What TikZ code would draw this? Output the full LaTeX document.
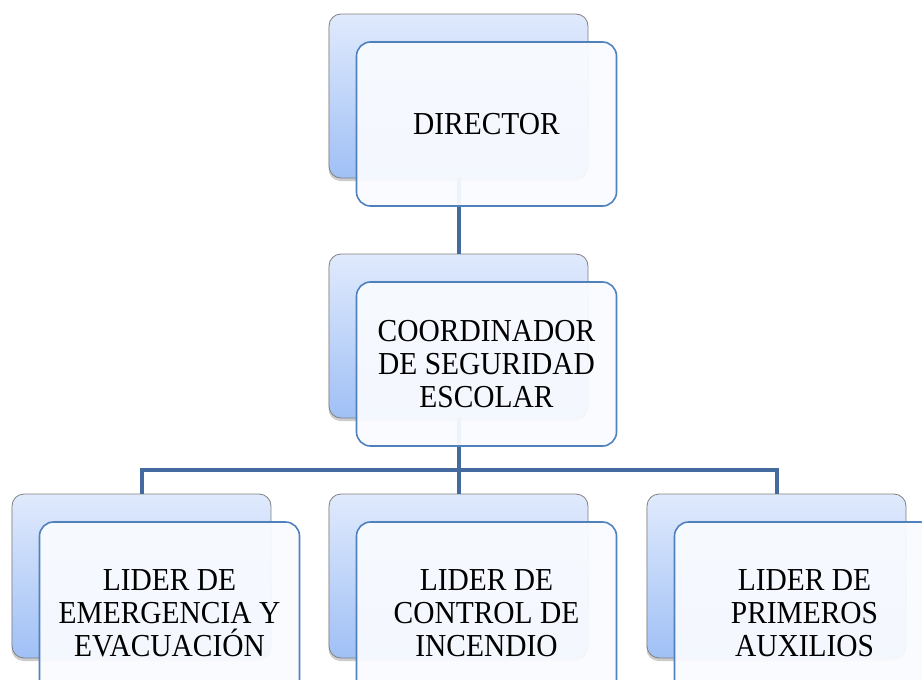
\documentclass[tikz,border=0pt]{standalone}
\usepackage{fontspec}
\setmainfont[FakeStretch=0.92]{Liberation Serif}
\usetikzlibrary{shadows,calc,positioning}
\definecolor{linkblue}{RGB}{68,106,160}
\definecolor{frontline}{RGB}{79,129,189}
\definecolor{backtop}{RGB}{224,234,252}
\definecolor{backbot}{RGB}{160,192,246}
\definecolor{frontfill}{RGB}{249,251,255}

\begin{document}
\begin{tikzpicture}[x=1pt, y=-1pt,
  backbox/.style={rectangle, rounded corners=12pt, draw=black!50, line width=0.8pt,
    top color=backtop, bottom color=backbot, minimum width=259pt, minimum height=164pt,
    drop shadow={shadow xshift=-0.5pt, shadow yshift=-3pt, opacity=0.4}},
  frontbox/.style={rectangle, rounded corners=14pt, draw=frontline, line width=1.6pt,
    fill=frontfill, fill opacity=0.94, text opacity=1, minimum width=260pt, minimum height=164pt,
    align=center, font=\fontsize{32}{33}\selectfont},
  link/.style={draw=linkblue, line width=4pt}]
  \def\off{28}
  \def\by{576}

  \useasboundingbox (0,0) rectangle (922,680);
  \clip (0,0) rectangle (922,680);

  % Back boxes
  \node[backbox] (dirB) at (458.5,96) {};
  \node[backbox] (coordB) at (458.5,336) {};
  \foreach \name/\xx in {emer/141.5, ctrl/458.5, aux/776.5} {
    \node[backbox] (\name B) at (\xx,\by) {};
  }

  % Connectors
  \coordinate (bus) at ($(ctrlB.north)+(0,-24)$);
  \draw[link] (dirB.south) -- (coordB.north);
  \draw[link] (coordB.south) -- (ctrlB.north);
  \draw[link] (emerB.north) |- (bus) -| (auxB.north);

  % Front boxes with the texts
  \node[frontbox] (dirF) at ($(dirB.center)+(\off,\off)$) {DIRECTOR};
  \node[frontbox] (coordF) at ($(coordB.center)+(\off,\off)$) {COORDINADOR\\DE SEGURIDAD\\ESCOLAR};
  \foreach \name/\txt in {emer/{LIDER DE\\EMERGENCIA Y\\EVACUACIÓN}, ctrl/{LIDER DE\\CONTROL DE\\INCENDIO}, aux/{LIDER DE\\PRIMEROS\\AUXILIOS}} {
    \node[frontbox, minimum height=183pt] (\name F) at ($(\name B.center)+(\off,\off+9.5)$) {\txt};
  }
\end{tikzpicture}
\end{document}
